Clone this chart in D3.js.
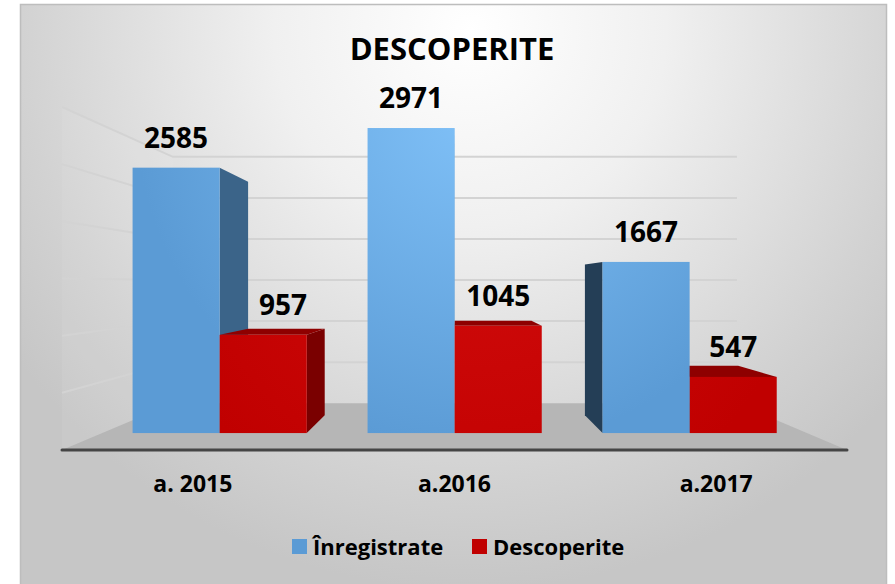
<!DOCTYPE html>
<html>
<head>
<meta charset="utf-8">
<script src="https://cdn.jsdelivr.net/npm/d3@7"></script>
<style>
  html, body { margin: 0; padding: 0; background: #ffffff; }
  svg { display: block; }
  text { font-family: "Open Sans", "Noto Sans", sans-serif; font-weight: 700; fill: #000; }
</style>
</head>
<body>
<script>
// ---------------- data ----------------
const title = "DESCOPERITE";
const categories = ["a. 2015", "a.2016", "a.2017"];
const seriesNames = ["Înregistrate", "Descoperite"];
const inregistrate = [2585, 2971, 1667];
const descoperite = [957, 1045, 547];
const yTicks = [0, 500, 1000, 1500, 2000, 2500, 3000];

// ---------------- layout ----------------
const W = 895, H = 584;
const svg = d3.select("body").append("svg").attr("width", W).attr("height", H);
const defs = svg.append("defs");

const bg = defs.append("radialGradient").attr("id", "bg")
  .attr("gradientUnits", "userSpaceOnUse")
  .attr("cx", 470).attr("cy", 30).attr("r", 560)
  .attr("gradientTransform", "translate(470,30) scale(1,1) translate(-470,-30)");
bg.append("stop").attr("offset", 0).attr("stop-color", "#ffffff");
bg.append("stop").attr("offset", 0.35).attr("stop-color", "#f0f0f0");
bg.append("stop").attr("offset", 0.8).attr("stop-color", "#d2d2d2");
bg.append("stop").attr("offset", 1).attr("stop-color", "#c6c6c6");

const blueG = defs.append("radialGradient").attr("id", "blueG")
  .attr("gradientUnits", "userSpaceOnUse")
  .attr("cx", 475).attr("cy", 110).attr("r", 340);
blueG.append("stop").attr("offset", 0).attr("stop-color", "#80c1f8");
blueG.append("stop").attr("offset", 1).attr("stop-color", "#5b9bd5");

const redG = defs.append("radialGradient").attr("id", "redG")
  .attr("gradientUnits", "userSpaceOnUse")
  .attr("cx", 475).attr("cy", 200).attr("r", 340);
redG.append("stop").attr("offset", 0).attr("stop-color", "#d20c0c");
redG.append("stop").attr("offset", 1).attr("stop-color", "#c00000");

// chart area background with border
svg.append("rect").attr("x", 20.5).attr("y", 4.5).attr("width", 866).attr("height", 590)
  .attr("fill", "url(#bg)").attr("stroke", "#bdbdbd").attr("stroke-width", 1.5);

// perspective
const VP = { x: 456, y: 284 };
const S_FRONT = 1, S_BAR_FRONT = 0.898, S_BAR_BACK = 0.79, S_WALL = 0.7185;
const proj = (X, Y, s) => [VP.x + (X - VP.x) * s, VP.y + (Y - VP.y) * s];

const x0 = d3.scaleBand().domain(categories).range([62, 847]).padding(0);
const x1 = d3.scaleBand().domain(seriesNames).range([0, x0.bandwidth()])
  .paddingInner(0).paddingOuter(0.349);
const y = d3.scaleLinear().domain([0, 3000]).range([450, 107]);
const xL = x0.range()[0], xR = x0.range()[1];
const yMax = y(d3.max(yTicks));

const poly = pts => pts.map(p => p.join(",")).join(" ");

// floor
svg.append("polygon")
  .attr("points", poly([proj(xL, y(0), S_FRONT), proj(xR, y(0), S_FRONT),
                         proj(xR, y(0), S_WALL), proj(xL, y(0), S_WALL)]))
  .attr("fill", "#b6b6b6");

// left wall (subtle)
svg.append("polygon")
  .attr("points", poly([proj(xL, y(0), S_FRONT), proj(xL, yMax, S_FRONT),
                         proj(xL, yMax, S_WALL), proj(xL, y(0), S_WALL)]))
  .attr("fill", "#ffffff").attr("fill-opacity", 0.06);

// gridlines
const gridG = svg.append("g");
yTicks.filter(t => t > 0).forEach(t => {
  const a = proj(xL, y(t), S_FRONT), b = proj(xL, y(t), S_WALL), c = proj(xR, y(t), S_WALL);
  gridG.append("polyline").attr("points", poly([a, b, c]))
    .attr("fill", "none").attr("stroke", "#d3d3d3").attr("stroke-width", 2);
});

// front edge of floor
svg.append("line")
  .attr("x1", proj(xL, y(0), 1)[0]).attr("y1", proj(xL, y(0), 1)[1])
  .attr("x2", proj(xR, y(0), 1)[0]).attr("y2", proj(xR, y(0), 1)[1])
  .attr("stroke", "#454545").attr("stroke-width", 3).attr("stroke-linecap", "round");

// bars
const seriesValues = [inregistrate, descoperite];
const styles = [
  { front: "url(#blueG)", sideR: "#3b6489", sideL: "#243e56", top: "#3b6489" },
  { front: "url(#redG)", sideR: "#7a0000", sideL: "#7a0000", top: "#8e0000" }
];
const bars = [];
categories.forEach((c, i) => {
  seriesNames.forEach((s, j) => {
    const X0 = x0(c) + x1(s), X1 = X0 + x1.bandwidth();
    bars.push({ i, j, v: seriesValues[j][i], X0, X1, Yt: y(seriesValues[j][i]), Yb: y(0) });
  });
});
bars.sort((a, b) => Math.abs((b.X0 + b.X1) / 2 - VP.x) - Math.abs((a.X0 + a.X1) / 2 - VP.x));

const barG = svg.append("g");
bars.forEach(b => {
  const st = styles[b.j];
  const g = barG.append("g");
  // side face
  if (b.X1 < VP.x - 0.5) {
    g.append("polygon").attr("points", poly([
      proj(b.X1, b.Yt, S_BAR_FRONT), proj(b.X1, b.Yt, S_BAR_BACK),
      proj(b.X1, b.Yb, S_BAR_BACK), proj(b.X1, b.Yb, S_BAR_FRONT)]))
      .attr("fill", st.sideR);
    b.sideRight = proj(b.X1, b.Yt, S_BAR_BACK)[0];
  } else if (b.X0 > VP.x + 0.5) {
    g.append("polygon").attr("points", poly([
      proj(b.X0, b.Yt, S_BAR_FRONT), proj(b.X0, b.Yt, S_BAR_BACK),
      proj(b.X0, b.Yb, S_BAR_BACK), proj(b.X0, b.Yb, S_BAR_FRONT)]))
      .attr("fill", st.sideL);
  }
  // top face
  if (b.Yt > VP.y) {
    g.append("polygon").attr("points", poly([
      proj(b.X0, b.Yt, S_BAR_FRONT), proj(b.X1, b.Yt, S_BAR_FRONT),
      proj(b.X1, b.Yt, S_BAR_BACK), proj(b.X0, b.Yt, S_BAR_BACK)]))
      .attr("fill", st.top);
  }
  // front face
  const p0 = proj(b.X0, b.Yt, S_BAR_FRONT), p1 = proj(b.X1, b.Yb, S_BAR_FRONT);
  g.append("rect").attr("x", p0[0]).attr("y", p0[1])
    .attr("width", p1[0] - p0[0]).attr("height", p1[1] - p0[1])
    .attr("fill", st.front);
  b.front = { x0: p0[0], x1: p1[0], top: p0[1] };
});

// value labels
const labG = svg.append("g");
bars.forEach(b => {
  const cx = (b.front.x0 + b.front.x1) / 2;
  const t = labG.append("text").attr("x", cx).attr("y", b.front.top - 20)
    .attr("text-anchor", "middle").attr("font-size", 28).text(b.v);
  const w = t.node().getComputedTextLength();
  // keep label clear of a neighbouring side face
  bars.forEach(o => {
    if (o !== b && o.sideRight && o.front.x1 <= b.front.x0 + 1 && o.front.top < b.front.top - 20) {
      const minLeft = o.sideRight + 11;
      if (cx - w / 2 < minLeft) t.attr("x", minLeft + w / 2);
    }
  });
});

// category labels
svg.append("g").selectAll("text").data(categories).join("text")
  .attr("x", d => x0(d) + x0.bandwidth() / 2).attr("y", 492)
  .attr("text-anchor", "middle").attr("font-size", 23).text(d => d);

// title
svg.append("text").attr("x", 452).attr("y", 60).attr("text-anchor", "middle")
  .attr("font-size", 31).text(title);

// legend
const legendColors = ["#5b9bd5", "#c00000"];
const legX = [292, 472];
const leg = svg.append("g").selectAll("g").data(seriesNames).join("g")
  .attr("transform", (d, i) => `translate(${legX[i]},539)`);
leg.append("rect").attr("width", 15).attr("height", 15).attr("fill", (d, i) => legendColors[i]);
leg.append("text").attr("x", 21).attr("y", 16).attr("font-size", 22).text(d => d);
</script>
</body>
</html>
